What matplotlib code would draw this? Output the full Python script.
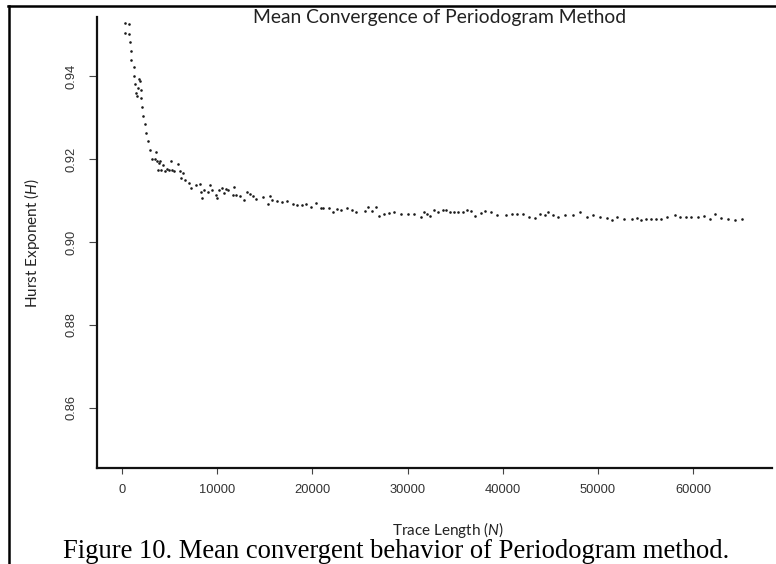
import matplotlib
matplotlib.use("Agg")
import matplotlib.pyplot as plt
from matplotlib.lines import Line2D

# Trace length (N) and mean Hurst exponent (H)
trace_len = [
    350, 735, 350, 735, 840, 915, 975, 1210, 1290, 1735,
    1840, 1365, 1650, 1945, 1470, 1610, 2030, 2120, 2205, 2385,
    2540, 2785, 2910, 3605, 3150, 3445, 3730, 3990, 3885, 4340,
    5200, 5905, 3780, 4130, 4515, 4760, 4990, 5305, 5485, 6070,
    6430, 6200, 6640, 7060, 7740, 8195, 7250, 8665, 8320, 8425,
    9000, 9225, 9505, 9895, 10030, 10210, 10535, 10765, 10905, 11135,
    11795, 11630, 12005, 12395, 12835, 13160, 13445, 13730, 14130, 14790,
    15390, 15580, 15810, 16335, 16785, 17330, 17930, 18435, 18890, 19350,
    19885, 20410, 20885, 21165, 21775, 22195, 22550, 23025, 23605, 24130,
    24610, 25495, 25870, 26230, 26710, 27025, 27520, 28075, 28550, 29305,
    30095, 30725, 31410, 31755, 32040, 32375, 32775, 33160, 33685, 34055,
    34455, 34905, 35345, 35790, 36210, 36630, 37135, 37680, 38150, 38815,
    39445, 40315, 41000, 41545, 42090, 42730, 43435, 43930, 44485, 44780,
    45305, 45850, 46535, 47340, 48110, 48875, 49495, 50230, 50925, 51470,
    52050, 52760, 53590, 54150, 54485, 55020, 55590, 56115, 56640, 57230,
    58065, 58635, 59220, 59770, 60505, 61165, 61795, 62320, 62920, 63655,
    64420, 65095,
]
hurst = [
    0.9527, 0.9525, 0.9504, 0.9502, 0.9481, 0.9460, 0.9439, 0.9421, 0.9400, 0.9392,
    0.9387, 0.9380, 0.9371, 0.9366, 0.9358, 0.9351, 0.9346, 0.9324, 0.9304, 0.9283,
    0.9263, 0.9242, 0.9221, 0.9216, 0.9201, 0.9201, 0.9196, 0.9194, 0.9191, 0.9185,
    0.9194, 0.9187, 0.9174, 0.9173, 0.9172, 0.9176, 0.9174, 0.9173, 0.9171, 0.9172,
    0.9166, 0.9155, 0.9148, 0.9143, 0.9137, 0.9140, 0.9131, 0.9125, 0.9120, 0.9105,
    0.9121, 0.9138, 0.9124, 0.9112, 0.9105, 0.9126, 0.9130, 0.9118, 0.9128, 0.9126,
    0.9133, 0.9114, 0.9112, 0.9111, 0.9101, 0.9120, 0.9115, 0.9111, 0.9104, 0.9108,
    0.9092, 0.9111, 0.9100, 0.9099, 0.9095, 0.9098, 0.9092, 0.9088, 0.9088, 0.9091,
    0.9084, 0.9094, 0.9082, 0.9082, 0.9081, 0.9073, 0.9079, 0.9076, 0.9081, 0.9076,
    0.9071, 0.9075, 0.9083, 0.9074, 0.9083, 0.9063, 0.9068, 0.9069, 0.9073, 0.9068,
    0.9067, 0.9067, 0.9060, 0.9072, 0.9067, 0.9063, 0.9078, 0.9071, 0.9077, 0.9078,
    0.9072, 0.9071, 0.9071, 0.9072, 0.9076, 0.9075, 0.9062, 0.9070, 0.9075, 0.9071,
    0.9066, 0.9065, 0.9068, 0.9068, 0.9068, 0.9060, 0.9058, 0.9068, 0.9064, 0.9072,
    0.9066, 0.9061, 0.9066, 0.9064, 0.9072, 0.9060, 0.9066, 0.9061, 0.9058, 0.9053,
    0.9060, 0.9056, 0.9054, 0.9057, 0.9053, 0.9055, 0.9055, 0.9056, 0.9054, 0.9061,
    0.9064, 0.9059, 0.9061, 0.9061, 0.9060, 0.9062, 0.9055, 0.9067, 0.9057, 0.9054,
    0.9053, 0.9056,
]

x_ticks = [0, 10000, 20000, 30000, 40000, 50000, 60000]
y_ticks = [0.86, 0.88, 0.90, 0.92, 0.94]

plt.rcParams['mathtext.fontset'] = 'custom'
plt.rcParams['mathtext.it'] = 'Lato:italic'
plt.rcParams['mathtext.rm'] = 'Lato'

fig = plt.figure(figsize=(7.76, 5.64), dpi=100)
ax = fig.add_axes([0.125, 0.1702, 0.8698, 0.7996])

ax.scatter(trace_len, hurst, s=3.5, color='#1a1a1a', linewidths=0)

ax.set_xlim(-2625, 68280)
ax.set_ylim(0.8455, 0.9542)
ax.set_xticks(x_ticks)
ax.set_xticklabels([str(t) for t in x_ticks])
ax.set_yticks(y_ticks)
ax.set_yticklabels(['%.2f' % t for t in y_ticks], rotation=90, va='center')

for s in ['top', 'right']:
    ax.spines[s].set_visible(False)
for s in ['left', 'bottom']:
    ax.spines[s].set_linewidth(1.6)
    ax.spines[s].set_color('#111111')

ax.tick_params(axis='x', length=4.5, width=0.8, pad=7, labelsize=9.3,
               labelcolor='#333333', color='#444444')
ax.tick_params(axis='y', length=6, width=0.8, pad=8, labelsize=9.3,
               labelcolor='#333333', color='#444444')
for lab in ax.get_xticklabels() + ax.get_yticklabels():
    lab.set_fontfamily('Liberation Sans')

# titles and labels
fig.text(440 / 776, 1 - 23 / 564, 'Mean Convergence of Periodogram Method',
         ha='center', va='baseline', fontsize=13.9, family='Lato', color='#222222')
fig.text(448 / 776, 1 - 535 / 564, r'Trace Length ($\mathit{N}$)',
         ha='center', va='baseline', fontsize=11, family='Lato', color='#222222')
fig.text(32 / 776, 1 - 243 / 564, r'Hurst Exponent ($\mathit{H}$)',
         ha='center', va='center', rotation=90, fontsize=11, family='Lato',
         color='#222222')
fig.text(396 / 776, 1 - 558 / 564,
         'Figure 10. Mean convergent behavior of Periodogram method.',
         ha='center', va='baseline', fontsize=19.2, family='Liberation Serif',
         color='black')

# page border lines
fig.add_artist(Line2D([8 / 776, 1.0], [1 - 6.3 / 564, 1 - 6.3 / 564],
                      transform=fig.transFigure, color='black', linewidth=1.8))
fig.add_artist(Line2D([8.7 / 776, 8.7 / 776], [0, 1 - 6.3 / 564],
                      transform=fig.transFigure, color='black', linewidth=1.8))

fig.savefig('out.png', dpi=100)
